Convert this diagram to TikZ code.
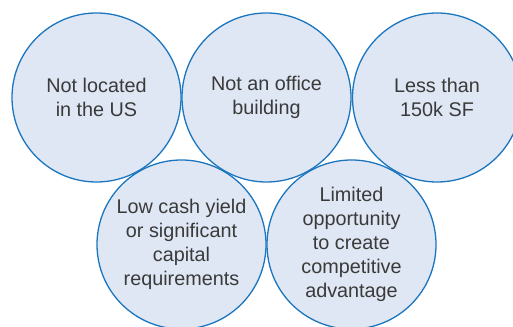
\documentclass[tikz,border=0pt]{standalone}
\usepackage{fontspec}
\setmainfont{Liberation Sans}
\definecolor{cfill}{HTML}{DFE7F4}
\definecolor{cline}{HTML}{1C76BF}
\definecolor{ctext}{HTML}{3A3A3A}
\begin{document}
\begin{tikzpicture}[x=1pt,y=1pt,
  crit/.style={circle, draw=cline, line width=1.3pt, minimum size=169pt, inner sep=0pt,
    align=center, text=ctext, font=\fontsize{19.8}{24}\selectfont}]
\useasboundingbox (0,0) rectangle (513,326);
\clip (0,0) rectangle (513,326);
% fills first
\foreach \p in {(96.5,228.5),(266.5,228.5),(437,228.5),(181.5,81.5),(351.5,81.5)}
  \fill[cfill] \p circle (84.5);
\node[crit] (c1) at (96.5,228.5) {Not located\\in the US};
\node[crit] (c2) at (266.5,228.5) {Not an office\\building};
\node[crit] (c3) at (437,228.5) {Less than\\150k SF};
\node[crit] (c4) at (181.5,81.5) {Low cash yield\\or significant\\capital\\requirements};
\node[crit] (c5) at (351.5,81.5) {Limited\\opportunity\\to create\\competitive\\advantage};
\end{tikzpicture}
\end{document}
